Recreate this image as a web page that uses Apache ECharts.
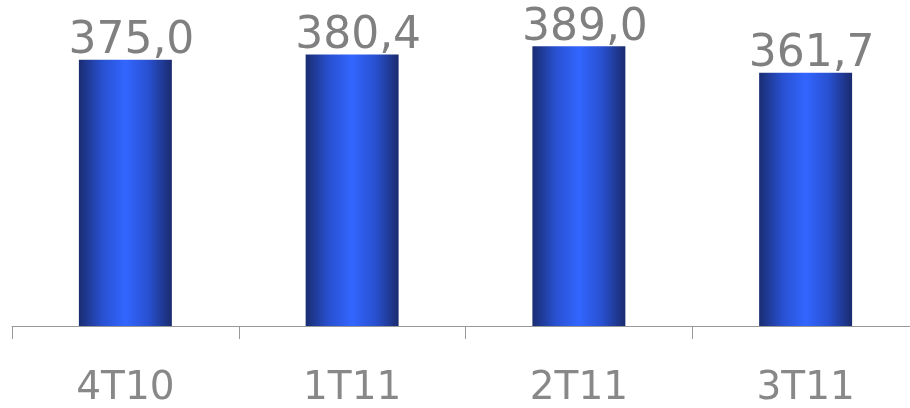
<!DOCTYPE html>
<html>
<head>
<meta charset="utf-8">
<script src="https://cdn.jsdelivr.net/npm/echarts@6/dist/echarts.min.js"></script>
<style>html,body{margin:0;padding:0;background:#fff;overflow:hidden;}#c{width:919px;height:408px;}</style>
</head>
<body>
<div id="c"></div>
<script>
var categories = ['4T10', '1T11', '2T11', '3T11'];
var values = [375.0, 380.4, 389.0, 361.7];

var chart = echarts.init(document.getElementById('c'), null, {renderer: 'canvas'});
chart.setOption({
  animation: false,
  grid: {left: 12, top: 35.6, right: 0, bottom: 79, containLabel: false},
  xAxis: {
    type: 'category',
    data: categories,
    axisLine: {lineStyle: {color: '#999999', width: 1}},
    axisTick: {show: true, length: 13, lineStyle: {color: '#999999'}},
    axisLabel: {color: '#888888', fontSize: 39, fontFamily: 'DejaVu Sans', margin: 43}
  },
  yAxis: {
    type: 'value', min: 100, max: 400, show: false,
    splitLine: {show: false}
  },
  series: [{
    type: 'bar',
    data: values,
    barWidth: '41%',
    itemStyle: {
      color: new echarts.graphic.LinearGradient(0, 0, 1, 0, [
        {offset: 0, color: '#1a2d72'},
        {offset: 0.25, color: '#2850d0'},
        {offset: 0.5, color: '#3366ff'},
        {offset: 0.75, color: '#2850d0'},
        {offset: 1, color: '#1a2b6e'}
      ])
    },
    label: {
      show: true, position: 'top', distance: -4, offset: [6, 0],
      color: '#808080', fontSize: 44, fontFamily: 'DejaVu Sans',
      formatter: function (p) { return p.value.toFixed(1).replace('.', ','); }
    }
  }]
});
</script>
</body>
</html>
